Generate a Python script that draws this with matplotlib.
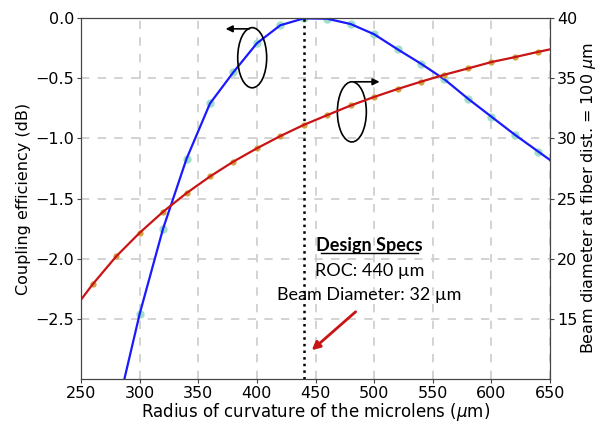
import matplotlib
matplotlib.use('Agg')
import matplotlib.pyplot as plt
from matplotlib.patches import Ellipse

# coupling efficiency (dB) vs radius of curvature
roc_cpl = [280, 300, 320, 340, 360, 380, 400, 420, 440, 460, 480, 500, 520,
           540, 560, 580, 600, 620, 640, 660]
cpl_db = [-3.29, -2.46, -1.75, -1.17, -0.71, -0.45, -0.21, -0.06, -0.003, -0.006,
          -0.05, -0.135, -0.26, -0.38, -0.51, -0.67, -0.82, -0.97, -1.11, -1.25]

# beam diameter at fiber dist. = 100 um
roc_beam = [240, 260, 280, 300, 320, 340, 360, 380, 400, 420, 440, 460, 480,
            500, 520, 540, 560, 580, 600, 620, 640, 660]
beam_um = [15.3, 17.88, 20.19, 22.15, 23.9, 25.45, 26.83, 28.07, 29.17, 30.19,
           31.12, 31.93, 32.73, 33.44, 34.1, 34.71, 35.29, 35.81, 36.34, 36.75,
           37.19, 37.6]

roc_design = 440
xticks = [250, 300, 350, 400, 450, 500, 550, 600, 650]
yticks_left = [0.0, -0.5, -1.0, -1.5, -2.0, -2.5]
yticks_right = [15, 20, 25, 30, 35, 40]

fig = plt.figure(figsize=(5.97, 4.23), dpi=100)
ax1 = fig.add_axes([0.1357, 0.104, 0.7856, 0.8534])
ax2 = ax1.twinx()

ax1.plot(roc_cpl, cpl_db, color='#1a1aff', lw=1.6, zorder=3)
ax1.plot(roc_cpl, cpl_db, 'o', color='#9fe0cc', ms=6, mec='none', zorder=2)
ax2.plot(roc_beam, beam_um, color='#c81414', lw=1.6, zorder=3)
ax2.plot(roc_beam, beam_um, 'o', color='#d4a040', ms=4.5, mec='none', zorder=2)

ax1.set_xlim(250, 650)
ax1.set_ylim(-3.0, 0.0)
ax2.set_ylim(10, 40)
ax1.set_xticks(xticks)
ax1.set_yticks(yticks_left)
ax2.set_yticks(yticks_right)

ax1.grid(True, ls=(0, (5, 5)), color='#cccccc', lw=1.2)
ax1.set_axisbelow(True)
for ax in (ax1, ax2):
    ax.tick_params(labelsize=11.5, length=3, pad=2, color='#444444')
    for s in ax.spines.values():
        s.set_color('#444444')

ax1.set_xlabel(r'Radius of curvature of the microlens ($\mu$m)', fontsize=12, labelpad=0)
ax1.set_ylabel('Coupling efficiency (dB)', fontsize=11.5, labelpad=3)
ax2.set_ylabel(r'Beam diameter at fiber dist. = 100 $\mu$m', fontsize=11.5, labelpad=1)

# design line
ax1.axvline(roc_design, color='black', ls=':', lw=1.8, zorder=4)

# ellipses with arrows
ax1.add_patch(Ellipse((396, -0.33), 24.7, 0.5, fill=False, ec='black', lw=1.2, zorder=5))
ax1.annotate('', xy=(371, -0.09), xytext=(396, -0.09),
             arrowprops=dict(arrowstyle='-|>', color='black', lw=1.2, mutation_scale=10))
ax1.add_patch(Ellipse((481, -0.78), 24.7, 0.5, fill=False, ec='black', lw=1.2, zorder=5))
ax1.annotate('', xy=(507, -0.53), xytext=(481, -0.53),
             arrowprops=dict(arrowstyle='-|>', color='black', lw=1.2, mutation_scale=10))

# design specs text
tf = 'Lato'
tx = 496
ax1.text(tx, -1.935, 'Design Specs', fontsize=13, fontweight='bold', family=tf,
         ha='center', va='baseline')
ax1.plot([tx - 41, tx + 41], [-1.955, -1.955], color='black', lw=1, zorder=5)
ax1.text(tx, -2.14, 'ROC: 440 \u00b5m', fontsize=13, family=tf, ha='center', va='baseline')
ax1.text(tx, -2.343, 'Beam Diameter: 32 \u00b5m', fontsize=13, family=tf, ha='center', va='baseline')
ax1.annotate('', xy=(445, -2.776), xytext=(486, -2.426),
             arrowprops=dict(arrowstyle='-|>', color='#c81414', lw=2, mutation_scale=12))

fig.savefig('out.png', dpi=100)
